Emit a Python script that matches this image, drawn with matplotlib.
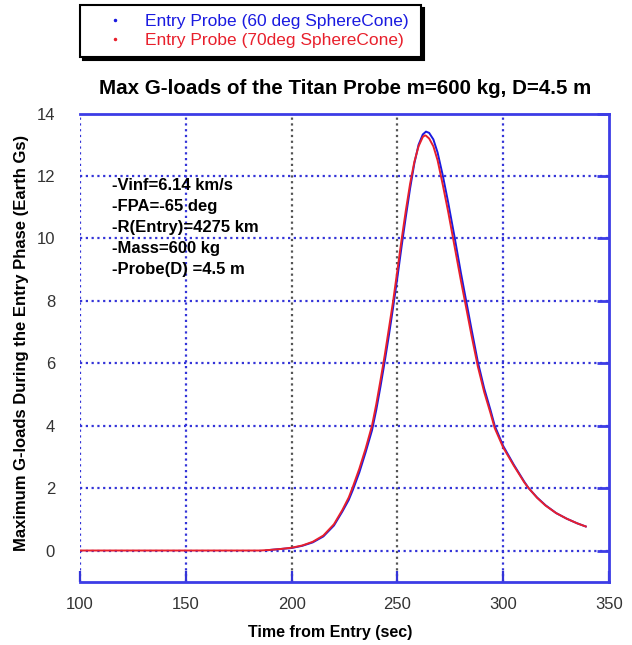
import matplotlib
matplotlib.use("Agg")
import matplotlib.pyplot as plt
from matplotlib.lines import Line2D

plt.rcParams['font.family'] = ['Liberation Sans', 'DejaVu Sans']

# G-load histories (time in s, load in Earth g)
time_60 = [188, 190, 195, 200, 205, 210, 215, 220, 224, 227, 229, 232, 235, 238, 240,
           242, 244, 246, 248, 250, 252, 254, 256, 258, 260, 262, 263.5, 265, 267,
           269, 271.5, 274, 277, 280, 282.5, 285, 288, 291, 294, 296, 300, 305, 310,
           312, 316, 320, 325, 330, 335, 339]
gload_60 = [0.0, 0.02, 0.05, 0.08, 0.15, 0.26, 0.45, 0.8, 1.25, 1.62, 1.95, 2.5, 3.15,
            3.85, 4.5, 5.25, 6.05, 6.9, 7.8, 8.75, 9.75, 10.7, 11.6, 12.4, 13.0, 13.33,
            13.42, 13.38, 13.17, 12.75, 12.0, 11.15, 10.05, 8.9, 8.0, 7.1, 6.05, 5.2,
            4.5, 4.0, 3.35, 2.75, 2.2, 2.0, 1.7, 1.45, 1.2, 1.02, 0.87, 0.77]

time_70 = [100, 150, 185, 190, 195, 200, 205, 210, 215, 220, 224, 227, 229, 232, 235,
           238, 240, 242, 244, 246, 248, 250, 252, 254, 256, 258, 260, 262, 263, 263.5,
           265, 267, 269, 271.5, 274, 277, 280, 282.5, 285, 288, 291, 294, 296, 300,
           305, 310, 312, 316, 320, 325, 330, 335, 339]
gload_70 = [0.0, 0.0, 0.0, 0.02, 0.05, 0.09, 0.16, 0.28, 0.48, 0.84, 1.3, 1.7, 2.05,
            2.62, 3.27, 4.0, 4.68, 5.45, 6.25, 7.12, 8.0, 8.98, 9.97, 10.9, 11.75, 12.45,
            12.95, 13.25, 13.3, 13.29, 13.2, 12.95, 12.5, 11.7, 10.85, 9.75, 8.65, 7.78,
            6.9, 5.9, 5.08, 4.4, 3.92, 3.3, 2.72, 2.18, 2.0, 1.69, 1.44, 1.2, 1.02, 0.87,
            0.77]

x_ticks = [100, 150, 200, 250, 300, 350]
y_ticks = [0, 2, 4, 6, 8, 10, 12, 14]
blue_vgrid = [100, 150, 300]
gray_vgrid = [200, 250]
hgrid = [0, 2, 4, 6, 8, 10, 12]

label_60 = "Entry Probe (60 deg SphereCone)"
label_70 = "Entry Probe (70deg SphereCone)"
notes = ["-Vinf=6.14 km/s", "-FPA=-65 deg", "-R(Entry)=4275 km",
         "-Mass=600 kg", "-Probe(D) =4.5 m"]

FRAME = '#3c3ce6'
GRIDB = '#3434d8'
GRIDG = '#555555'
BLUE = '#1a1ae0'
RED = '#e8202c'

fig = plt.figure(figsize=(6.32, 6.45), dpi=100)
ax = fig.add_axes([0.1266, 0.0981, 0.8370, 0.7259])

ax.set_xlim(100, 350)
ax.set_ylim(-1, 14)

dots = (0, (1.0, 1.6))
for x in blue_vgrid:
    ax.axvline(x, color=GRIDB, lw=1.6, ls=dots, zorder=1)
for x in gray_vgrid:
    ax.axvline(x, color=GRIDG, lw=1.6, ls=dots, zorder=1)
for y in hgrid:
    ax.axhline(y, color=GRIDB, lw=1.6, ls=dots, zorder=1)

ax.plot(time_60, gload_60, color=BLUE, lw=1.4, zorder=3)
ax.plot(time_70, gload_70, color=RED, lw=1.4, zorder=4)

for side in ('top', 'right', 'bottom'):
    ax.spines[side].set_color(FRAME)
    ax.spines[side].set_linewidth(2)
ax.spines['left'].set_visible(False)

ax.set_xticks(x_ticks)
ax.set_yticks(y_ticks)
ax.tick_params(axis='x', direction='in', length=8, width=1.6, colors=GRIDB,
               labelcolor='#333333', labelsize=12, pad=11)
ax.tick_params(axis='y', direction='in', length=9, width=2, colors=FRAME,
               left=False, right=True, labelleft=True, labelcolor='#333333',
               labelsize=12, pad=18)
for t, lab in zip(ax.xaxis.get_major_ticks(), x_ticks):
    if lab in gray_vgrid:
        t.tick1line.set_color(GRIDG)

ax.set_xlabel("Time from Entry (sec)", fontsize=11.5, fontweight='bold')
ax.xaxis.set_label_coords(0.473, -0.093)
ax.set_ylabel("Maximum G-loads During the Entry Phase (Earth Gs)", fontsize=12,
              fontweight='bold')
ax.yaxis.set_label_coords(-0.097, 0.51)

fig.text(0.546, 0.863, "Max G-loads of the Titan Probe m=600 kg, D=4.5 m",
         ha='center', va='center', fontsize=14.8, fontweight='bold')

ax.text(115, 11.95, "\n".join(notes), ha='left', va='top', fontsize=12,
        fontweight='bold', linespacing=1.5, zorder=5)

handles = [Line2D([], [], ls='none', marker='.', markersize=3, color=BLUE),
           Line2D([], [], ls='none', marker='.', markersize=3, color=RED)]
leg = fig.legend(handles, [label_60, label_70], loc='upper left',
                 bbox_to_anchor=(0.127, 0.992, 0.539, 0.0), mode='expand',
                 fontsize=12.5, frameon=True, fancybox=False,
                 shadow={'color': 'black', 'alpha': 1.0},
                 labelcolor=[BLUE, RED], handlelength=3.0, handletextpad=0.25,
                 borderpad=0.5, labelspacing=0.25, borderaxespad=0)
leg.get_frame().set_edgecolor('black')
leg.get_frame().set_linewidth(1.5)

fig.savefig("out.png", dpi=100, facecolor='white')
